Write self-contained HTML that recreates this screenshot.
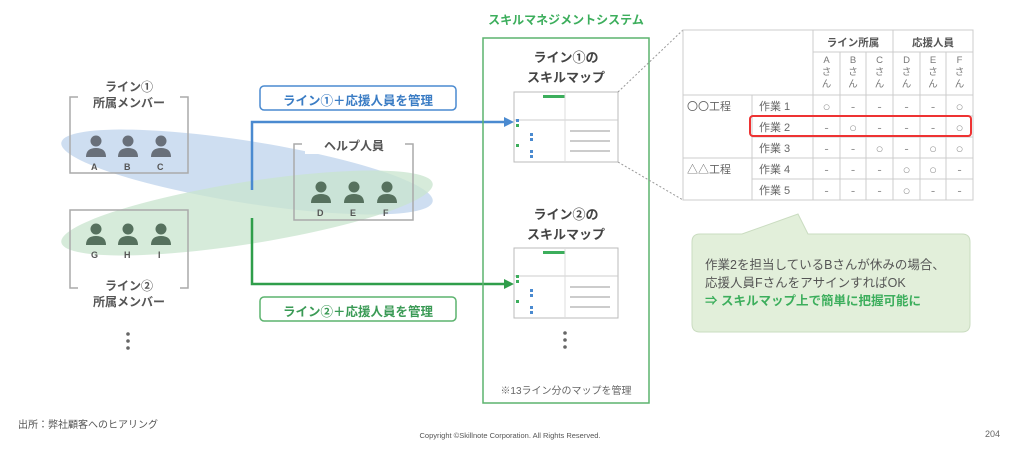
<!DOCTYPE html>
<html><head><meta charset="utf-8"><style>
*{margin:0;padding:0;box-sizing:border-box}
body{width:1024px;height:449px;background:#fff;position:relative;overflow:hidden;font-family:"Liberation Sans","Noto Sans CJK JP",sans-serif;color:#555}
.t{position:absolute;white-space:nowrap;text-align:center}
.b{font-weight:bold}
</style></head><body>
<svg width="1024" height="449" style="position:absolute;left:0;top:0">
<!-- ellipses -->
<ellipse cx="247" cy="172" rx="188" ry="31" transform="rotate(9 247 172)" fill="#c6d8ee" opacity="0.85"/>
<ellipse cx="247" cy="213" rx="188" ry="31" transform="rotate(-9 247 213)" fill="#c8e4cd" opacity="0.75"/>
<!-- brackets -->
<g fill="none" stroke="#aaa" stroke-width="1.5">
<path d="M78 97 H70 V173 H188 V97 H180"/>
<path d="M78 288 H70 V210 H188 V288 H180"/>
<path d="M302 144 H294 V220 H413 V144 H405"/>
</g>
<!-- people -->
<g fill="#69707a">
<circle cx="96" cy="141" r="5.5"/><path d="M86 157 q0-9 10-9 q10 0 10 9z"/>
<circle cx="128" cy="141" r="5.5"/><path d="M118 157 q0-9 10-9 q10 0 10 9z"/>
<circle cx="161" cy="141" r="5.5"/><path d="M151 157 q0-9 10-9 q10 0 10 9z"/>
</g>
<g fill="#56715e">
<circle cx="96" cy="229" r="5.5"/><path d="M86 245 q0-9 10-9 q10 0 10 9z"/>
<circle cx="128" cy="229" r="5.5"/><path d="M118 245 q0-9 10-9 q10 0 10 9z"/>
<circle cx="161" cy="229" r="5.5"/><path d="M151 245 q0-9 10-9 q10 0 10 9z"/>
<circle cx="321" cy="187" r="5.5"/><path d="M311 203 q0-9 10-9 q10 0 10 9z"/>
<circle cx="354" cy="187" r="5.5"/><path d="M344 203 q0-9 10-9 q10 0 10 9z"/>
<circle cx="387" cy="187" r="5.5"/><path d="M377 203 q0-9 10-9 q10 0 10 9z"/>
</g>
<!-- label boxes -->
<rect x="260" y="86" width="196" height="24" rx="4" fill="#fff" stroke="#4a8ad0" stroke-width="1.5"/>
<rect x="260" y="297" width="196" height="24" rx="4" fill="#fff" stroke="#5cb36e" stroke-width="1.5"/>
<!-- connectors -->
<path d="M252 190 V122 H506" fill="none" stroke="#4a8ad0" stroke-width="2.5"/>
<path d="M504 117 L514 122 L504 127z" fill="#4a8ad0"/>
<path d="M252 218 V284 H506" fill="none" stroke="#2f9e4a" stroke-width="2.5"/>
<path d="M504 279 L514 284 L504 289z" fill="#2f9e4a"/>
<!-- system box -->
<rect x="483" y="38" width="166" height="365" fill="none" stroke="#5cb36e" stroke-width="1.5"/>
<!-- thumbnails -->
<g>
<rect x="514" y="92" width="104" height="70" fill="#fff" stroke="#bbb"/>
<rect x="543" y="95" width="22" height="3" fill="#3cae5c"/>
<line x1="514" y1="120" x2="618" y2="120" stroke="#ccc"/>
<line x1="565" y1="92" x2="565" y2="162" stroke="#ddd"/>
<g fill="#4a8ad0"><rect x="516" y="119" width="3" height="3"/><rect x="530" y="133" width="3" height="3"/><rect x="530" y="138" width="3" height="3"/><rect x="530" y="150" width="3" height="3"/><rect x="530" y="155" width="3" height="3"/></g>
<g fill="#3cae5c"><rect x="516" y="124" width="3" height="3"/><rect x="516" y="144" width="3" height="3"/></g>
<g fill="#ccc"><rect x="570" y="130" width="40" height="2"/><rect x="570" y="140" width="40" height="2"/><rect x="570" y="150" width="40" height="2"/></g>
</g>
<g>
<rect x="514" y="248" width="104" height="70" fill="#fff" stroke="#bbb"/>
<rect x="543" y="251" width="22" height="3" fill="#3cae5c"/>
<line x1="514" y1="276" x2="618" y2="276" stroke="#ccc"/>
<line x1="565" y1="248" x2="565" y2="318" stroke="#ddd"/>
<g fill="#4a8ad0"><rect x="530" y="289" width="3" height="3"/><rect x="530" y="294" width="3" height="3"/><rect x="530" y="306" width="3" height="3"/><rect x="530" y="311" width="3" height="3"/></g>
<g fill="#3cae5c"><rect x="516" y="275" width="3" height="3"/><rect x="516" y="280" width="3" height="3"/><rect x="516" y="300" width="3" height="3"/></g>
<g fill="#ccc"><rect x="570" y="286" width="40" height="2"/><rect x="570" y="296" width="40" height="2"/><rect x="570" y="306" width="40" height="2"/></g>
</g>
<g fill="#666"><circle cx="565" cy="333" r="1.8"/><circle cx="565" cy="340" r="1.8"/><circle cx="565" cy="347" r="1.8"/>
<circle cx="128" cy="334" r="1.8"/><circle cx="128" cy="341" r="1.8"/><circle cx="128" cy="348" r="1.8"/></g>
<!-- dotted zoom lines -->
<line x1="618" y1="92" x2="683" y2="30" stroke="#999" stroke-dasharray="2,2"/>
<line x1="618" y1="162" x2="683" y2="200" stroke="#999" stroke-dasharray="2,2"/>
<!-- table -->
<g stroke="#ccc" fill="none">
<rect x="683" y="30" width="290" height="170"/>
<line x1="813" y1="30" x2="813" y2="200"/>
<line x1="893" y1="30" x2="893" y2="200"/>
<line x1="813" y1="52" x2="973" y2="52"/>
<line x1="840" y1="52" x2="840" y2="200"/><line x1="866" y1="52" x2="866" y2="200"/>
<line x1="920" y1="52" x2="920" y2="200"/><line x1="946" y1="52" x2="946" y2="200"/>
<line x1="683" y1="95" x2="973" y2="95"/>
<line x1="752" y1="95" x2="752" y2="200"/>
<line x1="752" y1="116" x2="973" y2="116"/><line x1="752" y1="137" x2="973" y2="137"/>
<line x1="683" y1="158" x2="973" y2="158"/><line x1="752" y1="179" x2="973" y2="179"/>
</g>
<rect x="750" y="116" width="221" height="20" rx="3" fill="none" stroke="#e33" stroke-width="2"/>
<!-- callout -->
<path d="M700 234 H742 L798 214 L808 234 H962 q8 0 8 8 V324 q0 8-8 8 H700 q-8 0-8-8 V242 q0-8 8-8z" fill="#e2efda" stroke="#cadcc0"/>
</svg>

<div class="t b" style="left:70px;top:79px;width:118px;font-size:12px;line-height:16px;color:#555">ライン①<br>所属メンバー</div>
<div class="t b" style="left:70px;top:278px;width:118px;font-size:12px;line-height:16px;color:#555">ライン②<br>所属メンバー</div>
<div class="t b" style="left:305px;top:137px;width:98px;font-size:12px;background:#fff">ヘルプ人員</div>
<div class="t b" style="left:79px;top:162px;width:100px;font-size:9px"><span style="position:absolute;left:12px">A</span><span style="position:absolute;left:45px">B</span><span style="position:absolute;left:78px">C</span></div>
<div class="t b" style="left:79px;top:250px;width:100px;font-size:9px"><span style="position:absolute;left:12px">G</span><span style="position:absolute;left:45px">H</span><span style="position:absolute;left:79px">I</span></div>
<div class="t b" style="left:304px;top:208px;width:100px;font-size:9px"><span style="position:absolute;left:13px">D</span><span style="position:absolute;left:46px">E</span><span style="position:absolute;left:79px">F</span></div>

<div class="t b" style="left:260px;top:90px;width:196px;font-size:12.5px;color:#3a7cc4">ライン①＋応援人員を管理</div>
<div class="t b" style="left:260px;top:301px;width:196px;font-size:12.5px;color:#3a9a55">ライン②＋応援人員を管理</div>

<div class="t b" style="left:483px;top:11px;width:166px;font-size:12px;color:#3cae5c">スキルマネジメントシステム</div>
<div class="t b" style="left:483px;top:48px;width:166px;font-size:13px;line-height:20px;color:#444">ライン①の<br>スキルマップ</div>
<div class="t b" style="left:483px;top:205px;width:166px;font-size:13px;line-height:20px;color:#444">ライン②の<br>スキルマップ</div>
<div class="t" style="left:483px;top:382px;width:166px;font-size:10px;color:#666">※13ライン分のマップを管理</div>

<div class="t b" style="left:813px;top:35px;width:80px;font-size:10.5px">ライン所属</div>
<div class="t b" style="left:893px;top:35px;width:80px;font-size:10.5px">応援人員</div>
<div style="position:absolute;left:813px;top:55px;font-size:9.5px;line-height:12px;color:#777">
<div class="t" style="left:0;width:27px">A<br>さ<br>ん</div><div class="t" style="left:27px;width:26px">B<br>さ<br>ん</div><div class="t" style="left:53px;width:27px">C<br>さ<br>ん</div><div class="t" style="left:80px;width:27px">D<br>さ<br>ん</div><div class="t" style="left:107px;width:26px">E<br>さ<br>ん</div><div class="t" style="left:133px;width:27px">F<br>さ<br>ん</div>
</div>
<div style="position:absolute;left:683px;top:95px;font-size:11px;color:#666">
<div class="t" style="left:4px;top:3px">〇〇工程</div>
<div class="t" style="left:4px;top:66px">△△工程</div>
<div class="t" style="left:76px;top:3px">作業 1</div>
<div class="t" style="left:76px;top:24px">作業 2</div>
<div class="t" style="left:76px;top:45px">作業 3</div>
<div class="t" style="left:76px;top:66px">作業 4</div>
<div class="t" style="left:76px;top:87px">作業 5</div>
</div>
<div style="position:absolute;left:813px;top:96px;font-size:13px;color:#999;line-height:21px">
<div style="display:grid;grid-template-columns:27px 26px 27px 27px 26px 27px;text-align:center">
<span>○</span><span>-</span><span>-</span><span>-</span><span>-</span><span>○</span>
<span>-</span><span>○</span><span>-</span><span>-</span><span>-</span><span>○</span>
<span>-</span><span>-</span><span>○</span><span>-</span><span>○</span><span>○</span>
<span>-</span><span>-</span><span>-</span><span>○</span><span>○</span><span>-</span>
<span>-</span><span>-</span><span>-</span><span>○</span><span>-</span><span>-</span>
</div></div>

<div style="position:absolute;left:705px;top:256px;font-size:12.5px;line-height:18px;color:#555">作業2を担当しているBさんが休みの場合、<br>応援人員FさんをアサインすればOK<br><b style="color:#3cae5c">⇒ スキルマップ上で簡単に把握可能に</b></div>

<div class="t" style="left:18px;top:416px;font-size:10px;color:#555">出所：弊社顧客へのヒアリング</div>
<div class="t" style="left:360px;top:431px;width:300px;font-size:7.5px;color:#555">Copyright ©Skillnote Corporation. All Rights Reserved.</div>
<div class="t" style="left:985px;top:429px;font-size:9px;color:#666">204</div>
</body></html>
